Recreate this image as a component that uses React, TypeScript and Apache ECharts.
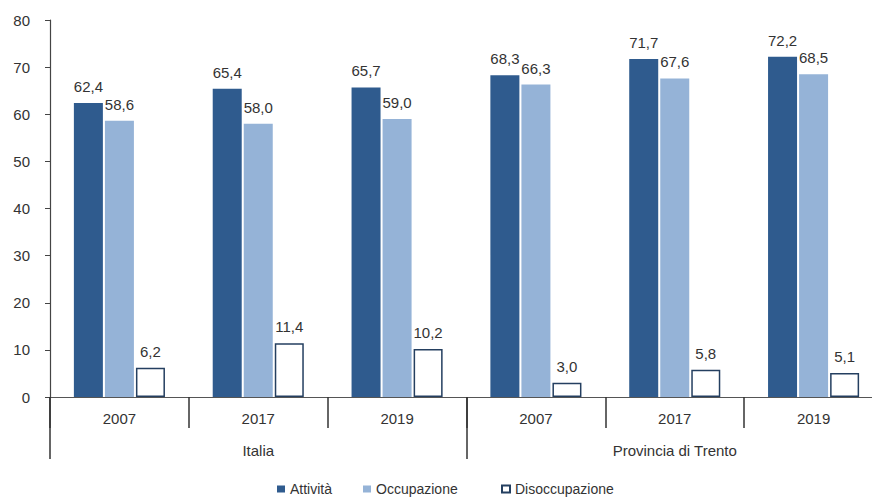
import React, { useEffect, useRef } from "react";
import * as echarts from "echarts";

const years = ["2007", "2017", "2019", "2007", "2017", "2019"];
const areas = ["Italia", "Provincia di Trento"];
const attivita = [62.4, 65.4, 65.7, 68.3, 71.7, 72.2];
const occupazione = [58.6, 58.0, 59.0, 66.3, 67.6, 68.5];
const disoccupazione = [6.2, 11.4, 10.2, 3.0, 5.8, 5.1];
const seriesNames = ["Attività", "Occupazione", "Disoccupazione"];

const FONT = "'Liberation Sans', Arial, sans-serif";
const TXT = "#333333";

export default function App() {
  const ref = useRef<HTMLDivElement>(null);
  useEffect(() => {
    if (!ref.current) return;
    const chart = echarts.init(ref.current, undefined, { renderer: "svg" });
    const fmt = (p: any) => Number(p.value).toFixed(1).replace(".", ",");
    const label = {
      show: true,
      position: "top" as const,
      distance: 9,
      formatter: fmt,
      fontSize: 15,
      fontFamily: FONT,
      color: TXT,
    };
    const legendBase = {
      top: 482,
      padding: 0,
      icon: "rect",
      itemWidth: 8,
      itemHeight: 7,
      itemGap: 0,
      textStyle: { fontSize: 14, fontFamily: FONT, color: TXT },
    };
    chart.setOption({
      animation: false,
      backgroundColor: "#ffffff",
      textStyle: { fontFamily: FONT },
      legend: [
        { ...legendBase, left: 277, data: [seriesNames[0]] },
        { ...legendBase, left: 363, data: [seriesNames[1]] },
        { ...legendBase, left: 501, data: [seriesNames[2]] },
      ],
      grid: {
        left: 50,
        width: 833,
        top: 20,
        bottom: 100,
        containLabel: false,
        outerBoundsMode: "none",
      },
      xAxis: [
        {
          type: "category",
          data: years,
          position: "bottom",
          axisLine: { show: true, lineStyle: { color: "#555555", width: 1 } },
          axisTick: {
            show: true,
            interval: 0,
            length: 31,
            lineStyle: { color: "#333333", width: 1.5 },
          },
          axisLabel: { interval: 0, margin: 14, fontSize: 15, fontFamily: FONT, color: TXT },
          splitLine: { show: false },
        },
        {
          type: "category",
          data: areas,
          position: "bottom",
          axisLine: { show: false },
          axisTick: {
            show: true,
            interval: 0,
            length: 62,
            lineStyle: { color: "#333333", width: 1.5 },
          },
          axisLabel: { interval: 0, margin: 46, fontSize: 15, fontFamily: FONT, color: TXT },
          splitLine: { show: false },
        },
      ],
      yAxis: {
        type: "value",
        min: 0,
        max: 80,
        interval: 10,
        axisLine: { show: true, lineStyle: { color: "#444444", width: 1.2 } },
        axisTick: { show: true, length: 5, lineStyle: { color: "#444444" } },
        axisLabel: { margin: 20, fontSize: 15, fontFamily: FONT, color: TXT },
        splitLine: { show: false },
      },
      series: [
        {
          name: seriesNames[0],
          type: "bar",
          data: attivita,
          barWidth: 29,
          barGap: "7%",
          itemStyle: { color: "#2f5b8e" },
          label,
        },
        {
          name: seriesNames[1],
          type: "bar",
          data: occupazione,
          barWidth: 29,
          barGap: "7%",
          itemStyle: { color: "#95b3d7" },
          label,
        },
        {
          name: seriesNames[2],
          type: "bar",
          data: disoccupazione,
          barWidth: 29,
          barGap: "7%",
          itemStyle: { color: "#ffffff", borderColor: "#243f60", borderWidth: 1.5 },
          label,
        },
      ],
    });
    return () => chart.dispose();
  }, []);
  return (
    <div
      ref={ref}
      style={{ position: "fixed", left: 0, top: 0, width: 872, height: 497 }}
    />
  );
}
